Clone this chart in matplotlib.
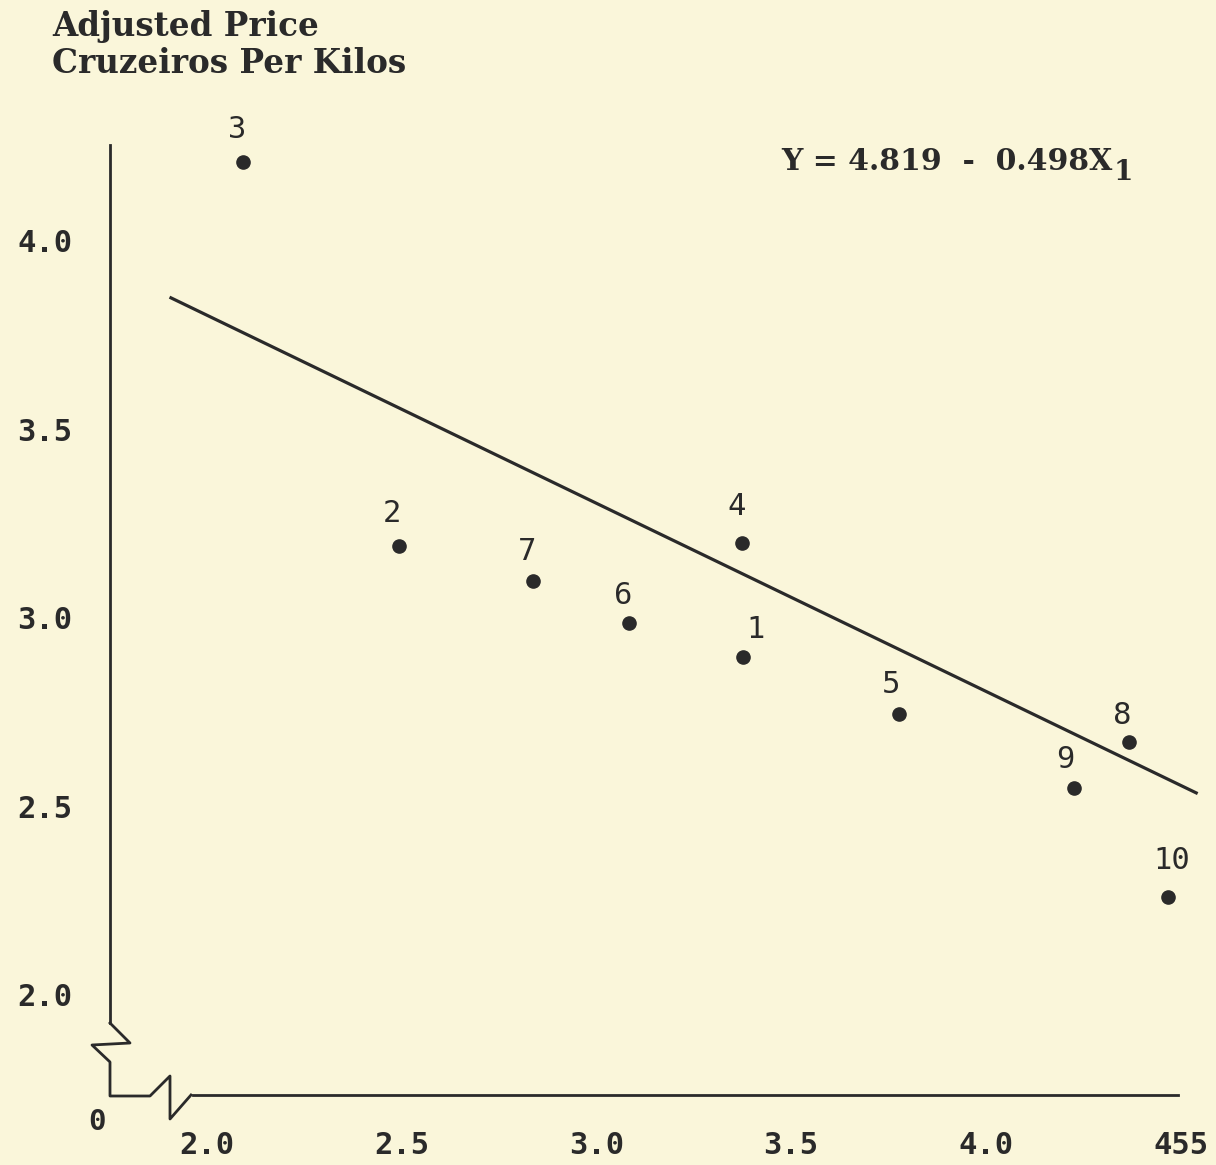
import numpy as np
import matplotlib.pyplot as plt
from matplotlib.lines import Line2D

obs = ['1', '2', '3', '4', '5', '6', '7', '8', '9', '10']
x1 = [3.377, 2.494, 2.092, 3.375, 3.777, 3.085, 2.837, 4.368, 4.225, 4.468]
price = [2.895, 3.190, 4.208, 3.198, 2.744, 2.986, 3.097, 2.670, 2.548, 2.259]

# fitted line as drawn on the sheet (Y = 4.819 - 0.498 X1)
line_x = [1.908, 4.540]
line_y = [3.848, 2.535]

xticks = [2.0, 2.5, 3.0, 3.5, 4.0, 4.5]
xticklabels = ['2.0', '2.5', '3.0', '3.5', '4.0', '455']
yticks = [2.0, 2.5, 3.0, 3.5, 4.0]
yticklabels = ['2.0', '2.5', '3.0', '3.5', '4.0']

# label offsets (pixels) so the numbers sit like the typed ones
lab_off = {'1': (12, 28), '2': (-7, 32), '3': (-5, 33), '4': (-6, 36), '5': (-8, 30),
           '6': (-6, 27), '7': (-6, 29), '8': (-7, 26), '9': (-8, 28), '10': (4, 36)}

W, H = 1216, 1165
paper = '#faf6da'
ink = '#2a2a2a'
sans = 'DejaVu Sans Mono'
serif = 'DejaVu Serif'

fig = plt.figure(figsize=(W / 100, H / 100), dpi=100, facecolor=paper)
ax = fig.add_axes([110 / W, (H - 1095) / H, (W - 110) / W, 1095 / H])
ax.set_facecolor(paper)
ax.set_xlim(1.7515, 4.5908)
ax.set_ylim(1.7337, 4.638)

# points and labels
ax.plot(x1, price, 'o', color=ink, ms=9.5, mec=ink)
for o, xx, yy in zip(obs, x1, price):
    ax.annotate(o, (xx, yy), xytext=lab_off[o], textcoords='offset pixels',
                ha='center', va='center', fontsize=22, family=sans, color=ink)

# regression line
ax.plot(line_x, line_y, color=ink, lw=2.3)

eq = ax.text(0.607, 0.8522, 'Y = 4.819  -  0.498X', transform=ax.transAxes,
             ha='left', va='center', fontsize=21.5, family=serif, weight='bold', color=ink)
ax.annotate('1', xy=(1, 0.5), xycoords=eq, xytext=(1, -11), textcoords='offset pixels',
            ha='left', va='center', fontsize=20, family=serif, weight='bold', color=ink)

# axes with breaks
for s in ['top', 'right']:
    ax.spines[s].set_visible(False)
ax.spines['left'].set_bounds(1.9247, 4.2536)
ax.spines['bottom'].set_bounds(1.964, 4.493)
for s in ['left', 'bottom']:
    ax.spines[s].set_color(ink)
    ax.spines[s].set_linewidth(2.0)

ax.set_xticks(xticks)
ax.set_xticklabels(xticklabels)
ax.set_yticks(yticks)
ax.set_yticklabels(yticklabels)
ax.tick_params(length=0, labelsize=22, labelcolor=ink)
ax.tick_params(axis='y', pad=27)
ax.tick_params(axis='x', pad=26)
for t in ax.get_xticklabels() + ax.get_yticklabels():
    t.set_family(sans)
    t.set_weight('bold')

brk_x = [110, 130, 92, 110, 110, 150, 170, 170, 191]
brk_y = [1023, 1043, 1045, 1062, 1096, 1096, 1076, 1119, 1095]
fig.add_artist(Line2D([v / W for v in brk_x], [1 - v / H for v in brk_y],
                      transform=fig.transFigure, color=ink, lw=2.0))

fig.text(97 / W, 1 - 1122 / H, '0', ha='center', va='center', fontsize=21,
         family=sans, weight='bold', color=ink)

fig.text(52 / W, 1 - 45 / H, 'Adjusted Price\nCruzeiros Per Kilos', ha='left', va='center',
         fontsize=23.5, family=serif, weight='bold', color=ink, linespacing=1.12)

fig.savefig('out.png', dpi=100, facecolor=paper)
